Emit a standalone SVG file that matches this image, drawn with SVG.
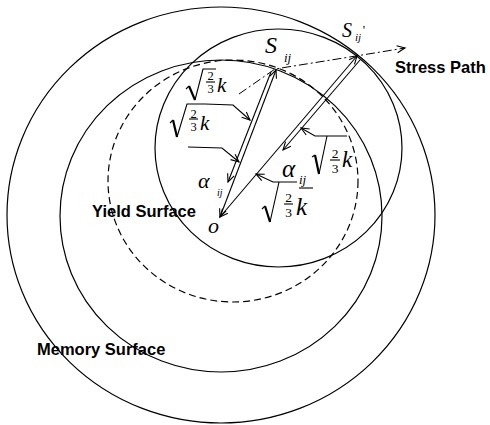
<svg xmlns="http://www.w3.org/2000/svg" width="490" height="425" viewBox="0 0 490 425">
<defs>
<style>
.c{fill:none;stroke:#000;stroke-width:1.2}
.d{fill:none;stroke:#000;stroke-width:1.2;stroke-dasharray:7 4}
.ln{fill:none;stroke:#000;stroke-width:1.1}
.sp{fill:none;stroke:#000;stroke-width:1;stroke-dasharray:9 3 2 3}
.lab{font-family:"Liberation Sans",Arial,sans-serif;font-weight:bold;font-size:16.5px;fill:#000}
.m{font-family:"Liberation Serif","Times New Roman",serif;font-style:italic;fill:#000}
.n{font-family:"Liberation Serif","Times New Roman",serif;fill:#000;text-anchor:middle}
.r{fill:none;stroke:#000;stroke-width:1.1}
.rt{fill:none;stroke:#000;stroke-width:2.2}
</style>
<marker id="ah" viewBox="-10 -5 12 10" refX="0" refY="0" markerWidth="12" markerHeight="10" markerUnits="userSpaceOnUse" orient="auto-start-reverse">
<path d="M-8,-3.5 L0,0 L-8,3.5" fill="none" stroke="#000" stroke-width="1.1"/>
</marker>
</defs>
<rect width="490" height="425" fill="#fff"/>
<g id="outer-surface"><ellipse class="c" cx="221" cy="215" rx="214" ry="208"/></g>
<g id="memory-surface"><ellipse class="c" cx="221" cy="216" rx="161" ry="156"/><text class="lab" x="37" y="355">Memory Surface</text></g>
<g id="initial-yield-surface"><ellipse class="d" cx="233" cy="181" rx="125" ry="121"/></g>
<g id="yield-surface"><ellipse class="c" cx="278.5" cy="148" rx="123.5" ry="119"/><text class="lab" x="92" y="217">Yield Surface</text></g>
<g id="connectors">
<polyline class="sp" points="239,94 275,69 356,56 405,48" marker-end="url(#ah)"/>
<line class="ln" x1="276" y1="70" x2="220" y2="217" marker-start="url(#ah)" marker-end="url(#ah)"/>
<line class="ln" x1="271" y1="72" x2="228" y2="182" marker-end="url(#ah)"/>
<line class="ln" x1="357" y1="56" x2="220" y2="217" marker-start="url(#ah)" marker-end="url(#ah)"/>
<line class="ln" x1="360" y1="60" x2="283" y2="150" marker-end="url(#ah)"/>
<polyline class="ln" points="205,104 233,105 250,120" marker-end="url(#ah)"/>
<polyline class="ln" points="188,147 222,148 239,162" marker-end="url(#ah)"/>
<polyline class="ln" points="347,136 315,136 301,128" marker-end="url(#ah)"/>
<polyline class="ln" points="297,182 273,182 256,174" marker-end="url(#ah)"/>
</g>
<g id="point-s">
<text class="m" x="265" y="53" font-size="24">S</text><text class="m" x="284" y="62" font-size="13">ij</text>
</g>
<g id="point-s-prime">
<text class="m" x="342" y="37" font-size="20">S</text><text class="m" x="355" y="41" font-size="11">ij</text><text class="n" x="364" y="34" font-size="13">'</text>
</g>
<g id="stress-path-label"><text class="lab" x="395" y="73">Stress Path</text></g>
<g id="origin"><text class="m" x="208" y="233" font-size="22">o</text></g>
<g id="alpha-left"><text class="m" x="198" y="188" font-size="22">α</text><text class="m" x="217" y="196" font-size="10">ij</text></g>
<g id="alpha-right"><text class="m" x="282" y="177" font-size="25">α</text><text class="m" x="299" y="184" font-size="13">ij</text></g>
<g id="sqrt-a">
<path class="r" d="M186,89 L189,86"/><path class="rt" d="M189,86 L195,100"/><path class="r" d="M195,100 L203,69 L216,69"/>
<text class="n" x="210.5" y="80" font-size="12.5">2</text><line class="r" x1="206" y1="82" x2="215" y2="82"/><text class="n" x="210.5" y="93" font-size="12.5">3</text>
<text class="m" x="217" y="92" font-size="21">k</text>
</g>
<g id="sqrt-b">
<path class="r" d="M170,123 L173,120"/><path class="rt" d="M173,120 L177,137"/><path class="r" d="M177,137 L187,104 L205,104"/>
<text class="n" x="193.5" y="117.5" font-size="12.5">2</text><line class="r" x1="189" y1="119" x2="198" y2="119"/><text class="n" x="193.5" y="130.5" font-size="12.5">3</text>
<text class="m" x="200" y="130" font-size="21">k</text>
</g>
<g id="sqrt-c">
<path class="r" d="M312,157 L315,155"/><path class="rt" d="M315,155 L319,174"/><path class="r" d="M319,174 L327,136"/>
<text class="n" x="335" y="158" font-size="13.5">2</text><line class="r" x1="330" y1="160" x2="340" y2="160"/><text class="n" x="335" y="173" font-size="13.5">3</text>
<text class="m" x="342" y="167" font-size="23">k</text>
</g>
<g id="sqrt-d">
<path class="r" d="M262,209 L265,206"/><path class="rt" d="M265,206 L270,222"/><path class="r" d="M270,222 L279,182"/>
<line class="r" x1="299" y1="188" x2="313" y2="188"/>
<text class="n" x="288.5" y="202" font-size="13.5">2</text><line class="r" x1="284" y1="204" x2="293" y2="204"/><text class="n" x="288.5" y="217" font-size="13.5">3</text>
<text class="m" x="296" y="215" font-size="25">k</text>
</g>
</svg>
